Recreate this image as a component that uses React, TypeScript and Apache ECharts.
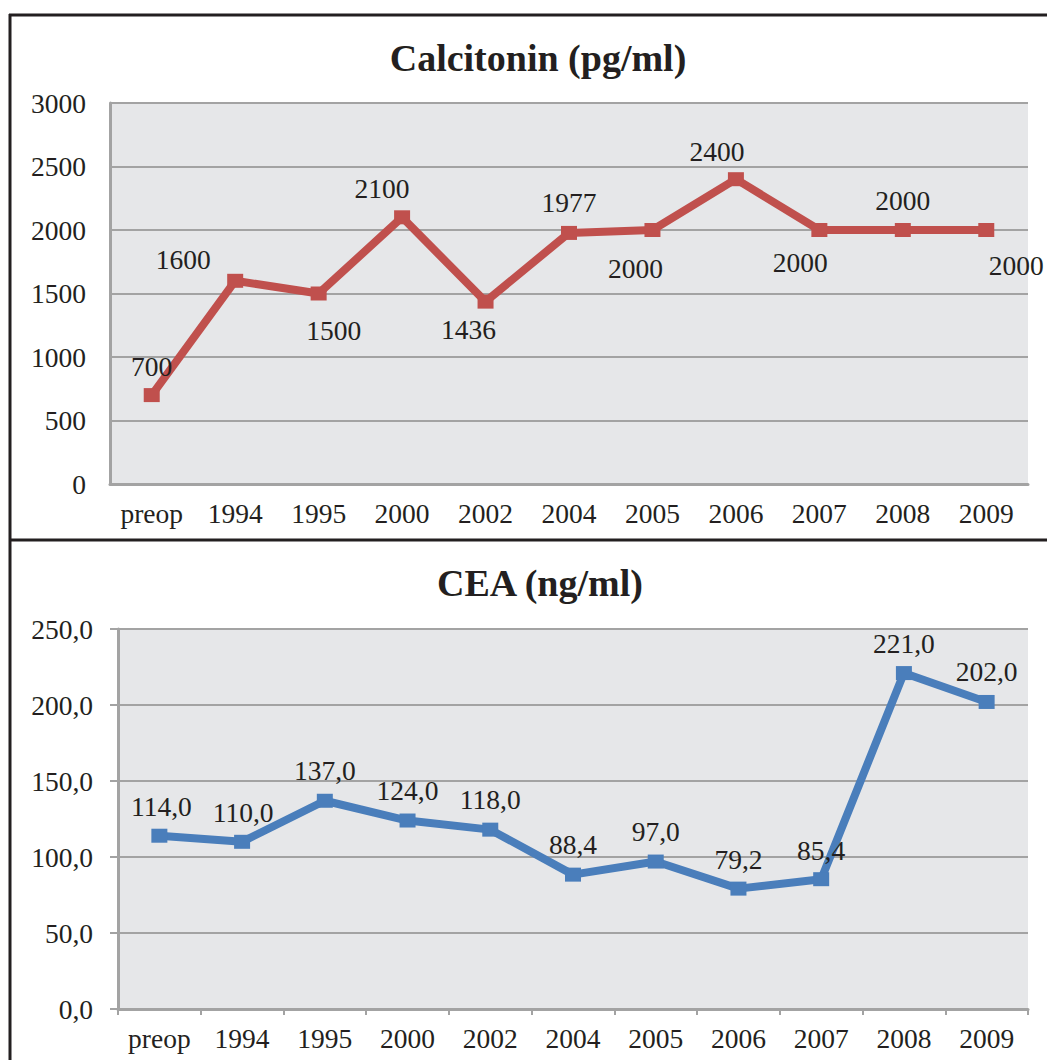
import React, { useEffect, useRef } from "react";
import * as echarts from "echarts";

const categories = ["preop", "1994", "1995", "2000", "2002", "2004", "2005", "2006", "2007", "2008", "2009"];
const calcitonin = [700, 1600, 1500, 2100, 1436, 1977, 2000, 2400, 2000, 2000, 2000];
const cea = [114.0, 110.0, 137.0, 124.0, 118.0, 88.4, 97.0, 79.2, 85.4, 221.0, 202.0];
const calcitoninTicks = { min: 0, max: 3000, interval: 500 };
const ceaTicks = { min: 0, max: 250, interval: 50 };

// label offsets (style only)
const calcLabelOffsets = [
  [0, -29], [-52, -21], [15, 37], [-20, -29], [-17, 28], [0, -30],
  [-17, 38], [-19, -28], [-19, 32], [0, -30], [30, 35],
];
const ceaLabelOffsets = [
  [2, -29], [1, -29], [0, -30], [0, -30], [0, -30], [0, -30],
  [0, -30], [0, -29], [0, -29], [0, -30], [0, -30],
];

const FONT = "'Liberation Serif', 'Times New Roman', serif";
const TXT = "#231f20";
const GRID = "#a3a3a3";
const comma = (v: number) => v.toFixed(1).replace(".", ",");

export default function App() {
  const ref = useRef<HTMLDivElement>(null);
  useEffect(() => {
    if (!ref.current) return;
    const chart = echarts.init(ref.current, undefined, { renderer: "svg" });
    const labelBase = { fontFamily: FONT, fontSize: 27.5, color: TXT };
    chart.setOption({
      animation: false,
      backgroundColor: "#ffffff",
      title: [
        {
          text: "Calcitonin (pg/ml)",
          left: 533,
          top: 34,
          textAlign: "center",
          textStyle: { fontFamily: FONT, fontSize: 38, fontWeight: "bold", color: TXT },
        },
        {
          text: "CEA (ng/ml)",
          left: 535,
          top: 559,
          textAlign: "center",
          textStyle: { fontFamily: FONT, fontSize: 38, fontWeight: "bold", color: TXT },
        },
      ],
      graphic: [
        { type: "line", shape: { x1: 9, y1: 15, x2: 1047, y2: 15 }, style: { stroke: "#231f20", lineWidth: 3 } },
        { type: "line", shape: { x1: 10, y1: 14, x2: 10, y2: 1060 }, style: { stroke: "#231f20", lineWidth: 3 } },
        { type: "line", shape: { x1: 9, y1: 540, x2: 1047, y2: 540 }, style: { stroke: "#231f20", lineWidth: 3 } },
      ],
      grid: [
        { left: 110, top: 103, width: 918, height: 381, show: true, backgroundColor: "#e6e7e9", borderWidth: 0, containLabel: false },
        { left: 118, top: 629, width: 910, height: 380, show: true, backgroundColor: "#e6e7e9", borderWidth: 0, containLabel: false },
      ],
      xAxis: [
        {
          type: "category",
          gridIndex: 0,
          data: categories,
          boundaryGap: true,
          axisLine: { show: true, lineStyle: { color: GRID, width: 3 } },
          axisTick: { show: false },
          axisLabel: { ...labelBase, margin: 15, interval: 0 },
        },
        {
          type: "category",
          gridIndex: 1,
          data: categories,
          boundaryGap: true,
          axisLine: { show: true, lineStyle: { color: GRID, width: 3 } },
          axisTick: { show: true, length: 6, lineStyle: { color: GRID, width: 2 } },
          axisLabel: { ...labelBase, margin: 15, interval: 0 },
        },
      ],
      yAxis: [
        {
          type: "value",
          gridIndex: 0,
          ...calcitoninTicks,
          axisLine: { show: true, lineStyle: { color: GRID, width: 3 } },
          axisTick: { show: false },
          splitLine: { show: true, lineStyle: { color: GRID, width: 2 } },
          axisLabel: { ...labelBase, margin: 24, formatter: (v: number) => String(v) },
        },
        {
          type: "value",
          gridIndex: 1,
          ...ceaTicks,
          axisLine: { show: true, lineStyle: { color: GRID, width: 3 } },
          axisTick: { show: true, length: 8, lineStyle: { color: GRID, width: 2 } },
          splitLine: { show: true, lineStyle: { color: GRID, width: 2 } },
          axisLabel: { ...labelBase, margin: 25, formatter: (v: number) => comma(v) },
        },
      ],
      series: [
        {
          type: "line",
          xAxisIndex: 0,
          yAxisIndex: 0,
          data: calcitonin.map((v, i) => ({
            value: v,
            label: { position: "inside", offset: calcLabelOffsets[i] },
          })),
          lineStyle: { color: "#c0504d", width: 8 },
          itemStyle: { color: "#c0504d" },
          symbol: "rect",
          symbolSize: [16, 14],
          label: { show: true, ...labelBase, formatter: (p: any) => String(p.value) },
          z: 3,
        },
        {
          type: "line",
          xAxisIndex: 1,
          yAxisIndex: 1,
          data: cea.map((v, i) => ({
            value: v,
            label: { position: "inside", offset: ceaLabelOffsets[i] },
          })),
          lineStyle: { color: "#4a7ebb", width: 8 },
          itemStyle: { color: "#4a7ebb" },
          symbol: "rect",
          symbolSize: [16, 14],
          label: { show: true, ...labelBase, formatter: (p: any) => comma(p.value) },
          z: 3,
        },
      ],
    });
    return () => chart.dispose();
  }, []);
  return (
    <div
      ref={ref}
      style={{ position: "fixed", left: 0, top: 0, width: 1047, height: 1060, background: "#fff" }}
    />
  );
}
